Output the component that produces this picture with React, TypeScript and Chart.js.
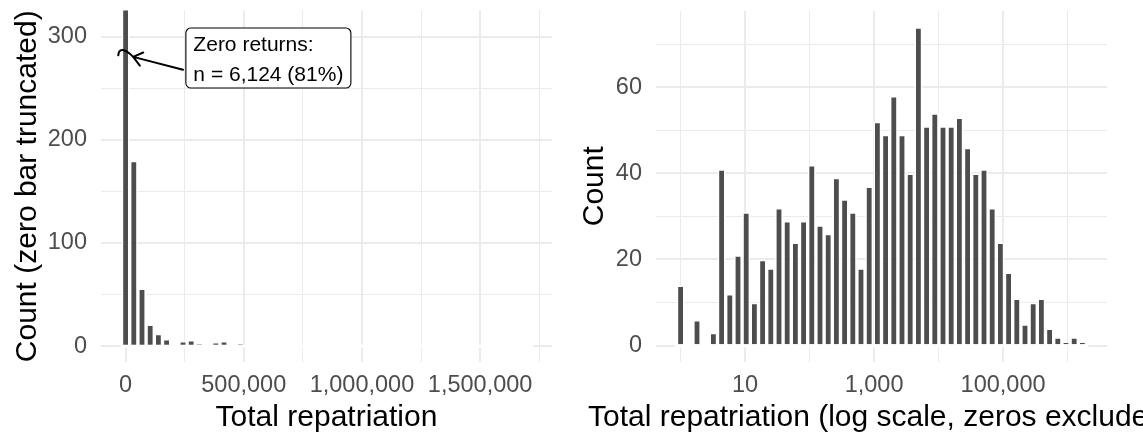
import { useEffect, useRef } from 'react';
import { Chart, registerables } from 'chart.js';

Chart.register(...registerables);

const FONT = '"Liberation Sans", Arial, Helvetica, sans-serif';
const BAR_FILL = '#4D4D4D';
const GRID_COLOR = '#EBEBEB';
const TICK_COLOR = '#4D4D4D';
const OUTLINE = 1.7;
const TICK_SIZE = 23.5;
const TITLE_SIZE = 30;
const NOTE_SIZE = 21;

// Both histograms use 50 equal-width bins, centred from the smallest to the largest value.
const MAX_REPATRIATION = 1700000;

// Counts per bin on the raw scale (bin 0 holds the zero returns, drawn truncated)
const RAW_COUNTS = [
  6124, 180, 56, 21, 12, 7, 0, 5, 6, 2, 0, 4, 5, 0, 2, 0, 1, 1, 0, 0, 1, 0, 1, 0, 0,
  0, 0, 0, 1, 0, 0, 0, 0, 0, 0, 1, 0, 0, 0, 0, 1, 0, 0, 0, 0, 0, 0, 0, 0, 1,
];

// Counts per bin on the log10 scale, zeros excluded
const LOG_COUNTS = [
  14, 0, 6, 0, 3, 41, 12, 21, 31, 10, 20, 18, 32, 29, 24, 29, 42, 28, 26, 39, 34, 31, 18, 37, 52,
  49, 58, 49, 40, 74, 51, 54, 51, 51, 53, 46, 40, 41, 32, 24, 17, 11, 5, 10, 11, 4, 2, 1, 2, 1,
];

const RAW_X_BREAKS = [0, 500000, 1000000, 1500000];
const RAW_X_MINOR = [250000, 750000, 1250000, 1750000];
const RAW_Y_BREAKS = [0, 100, 200, 300];
const RAW_Y_MINOR = [50, 150, 250];
const RAW_Y_LIMIT = 310;

const LOG_X_BREAKS = [10, 1000, 100000];
const LOG_X_MINOR = [1, 100, 10000, 1000000];
const LOG_Y_BREAKS = [0, 20, 40, 60];
const LOG_Y_MINOR = [10, 30, 50, 70];

const ZERO_NOTE = ['Zero returns:', 'n = 6,124 (81%)'];
// Note box, pointer and break mark, in data units of the raw histogram
const NOTE_ANCHOR = { x: 255000, y: 308.5 };
const ARROW_FROM = { x: 243000, y: 268 };
const ARROW_TO = { x: 32000, y: 280.5 };
const BREAK_MARK = [
  { x: -31000, y: 282 },
  { x: -28500, y: 288.5 },
  { x: -8000, y: 289.5 },
  { x: 32000, y: 280.5 },
];

const fmt = (v: number) => Math.round(v).toLocaleString('en-US');

const binCenters = (n: number, maxCenter: number) =>
  Array.from({ length: n }, (_, i) => (i * maxCenter) / (n - 1));

type Area = { left: number; right: number; top: number; bottom: number };

type PanelSpec = {
  canvasWidth: number;
  canvasHeight: number;
  area: Area;
  centers: number[];
  counts: number[];
  xMajor: number[];
  xMinor: number[];
  xLabel: (v: number) => string;
  yMajor: number[];
  yMinor: number[];
  yRange: [number, number];
  xTitle: string;
  yTitle: string;
  yTitleX: number;
  xTitleY: number;
  xTickPadding: number;
  extra?: (chart: any) => void;
};

const near = (list: number[], v: number) => list.some((m) => Math.abs(m - v) < 1e-6);

function histogramConfig(p: PanelSpec): any {
  const w = p.centers[1] - p.centers[0];
  const lo = p.centers[0] - w / 2;
  const hi = p.centers[p.centers.length - 1] + w / 2;
  const pad = 0.05 * (hi - lo);

  const decor = {
    id: 'decor',
    afterDatasetsDraw(chart: any) {
      const { ctx, chartArea, scales } = chart;
      const xs = scales.x;
      const ys = scales.y;
      // white outline of the empty bins along the baseline
      const half = (xs.getPixelForValue(p.centers[1]) - xs.getPixelForValue(p.centers[0])) / 2;
      const x0 = xs.getPixelForValue(p.centers[0]) - half - OUTLINE;
      const x1 = xs.getPixelForValue(p.centers[p.centers.length - 1]) + half + OUTLINE;
      const y0 = ys.getPixelForValue(0);
      ctx.save();
      ctx.beginPath();
      ctx.rect(chartArea.left, chartArea.top, chartArea.right - chartArea.left, chartArea.bottom - chartArea.top);
      ctx.clip();
      ctx.fillStyle = '#FFFFFF';
      ctx.fillRect(x0, y0 - 1.3, x1 - x0, 3.0);
      ctx.restore();
      if (p.extra) p.extra(chart);
    },
    afterDraw(chart: any) {
      const { ctx, chartArea } = chart;
      ctx.save();
      ctx.fillStyle = '#000000';
      ctx.font = `${TITLE_SIZE}px ${FONT}`;
      ctx.textAlign = 'center';
      ctx.textBaseline = 'alphabetic';
      ctx.fillText(p.xTitle, (chartArea.left + chartArea.right) / 2, p.xTitleY);
      ctx.translate(p.yTitleX, (chartArea.top + chartArea.bottom) / 2);
      ctx.rotate(-Math.PI / 2);
      ctx.fillText(p.yTitle, 0, 0);
      ctx.restore();
    },
  };

  const gridOpts = (major: number[]) => ({
    offset: false,
    drawTicks: false,
    color: GRID_COLOR,
    lineWidth: (ctx: any) => (ctx.tick && near(major, ctx.tick.value) ? 2 : 1),
  });

  return {
    type: 'bar',
    data: {
      datasets: [
        {
          data: p.centers.map((x, i) => ({ x, y: p.counts[i] })),
          backgroundColor: BAR_FILL,
          borderColor: '#FFFFFF',
          borderWidth: { top: OUTLINE, left: OUTLINE, right: OUTLINE, bottom: 0 },
          borderSkipped: false,
          categoryPercentage: 1,
          barPercentage: 1,
          inflateAmount: 0,
        },
      ],
    },
    options: {
      animation: false,
      responsive: false,
      events: [],
      layout: {
        autoPadding: false,
        padding: { left: 0, top: p.area.top, right: p.canvasWidth - p.area.right, bottom: 0 },
      },
      plugins: { legend: { display: false }, tooltip: { enabled: false }, title: { display: false } },
      scales: {
        x: {
          type: 'linear',
          min: lo - pad,
          max: hi + pad,
          offset: false,
          grid: gridOpts(p.xMajor),
          border: { display: false },
          afterBuildTicks: (s: any) => {
            s.ticks = [...p.xMajor, ...p.xMinor].sort((a, b) => a - b).map((value) => ({ value }));
          },
          ticks: {
            autoSkip: false,
            maxRotation: 0,
            minRotation: 0,
            padding: p.xTickPadding,
            color: TICK_COLOR,
            font: { family: FONT, size: TICK_SIZE },
            callback: (v: number) => (near(p.xMajor, v) ? p.xLabel(v) : ''),
          },
          afterFit: (s: any) => {
            s.height = p.canvasHeight - p.area.bottom;
            s.paddingLeft = 0;
            s.paddingRight = 0;
            s.paddingTop = 0;
            s.paddingBottom = 0;
          },
        },
        y: {
          type: 'linear',
          min: p.yRange[0],
          max: p.yRange[1],
          grid: gridOpts(p.yMajor),
          border: { display: false },
          afterBuildTicks: (s: any) => {
            s.ticks = [...p.yMajor, ...p.yMinor].sort((a, b) => a - b).map((value) => ({ value }));
          },
          ticks: {
            autoSkip: false,
            padding: 14,
            color: TICK_COLOR,
            font: { family: FONT, size: TICK_SIZE },
            callback: (v: number) => (near(p.yMajor, v) ? fmt(v) : ''),
          },
          afterFit: (s: any) => {
            s.width = p.area.left;
            s.paddingLeft = 0;
            s.paddingRight = 0;
            s.paddingTop = 0;
            s.paddingBottom = 0;
          },
        },
      },
    },
    plugins: [decor],
  };
}

function drawZeroNote(chart: any) {
  const { ctx, scales } = chart;
  const px = (v: number) => scales.x.getPixelForValue(v);
  const py = (v: number) => scales.y.getPixelForValue(v);
  ctx.save();
  ctx.strokeStyle = '#000000';
  ctx.lineCap = 'round';
  ctx.lineJoin = 'round';

  // break mark across the truncated zero bar
  ctx.lineWidth = 2;
  ctx.beginPath();
  ctx.moveTo(px(BREAK_MARK[0].x), py(BREAK_MARK[0].y));
  ctx.bezierCurveTo(
    px(BREAK_MARK[1].x), py(BREAK_MARK[1].y),
    px(BREAK_MARK[2].x), py(BREAK_MARK[2].y),
    px(BREAK_MARK[3].x), py(BREAK_MARK[3].y),
  );
  ctx.stroke();

  // pointer with an open arrow head
  const ax = px(ARROW_FROM.x);
  const ay = py(ARROW_FROM.y);
  const bx = px(ARROW_TO.x);
  const by = py(ARROW_TO.y);
  const ang = Math.atan2(ay - by, ax - bx);
  const head = 11;
  const spread = (38 * Math.PI) / 180;
  ctx.beginPath();
  ctx.moveTo(ax, ay);
  ctx.lineTo(bx, by);
  ctx.moveTo(bx + head * Math.cos(ang - spread), by + head * Math.sin(ang - spread));
  ctx.lineTo(bx, by);
  ctx.lineTo(bx + head * Math.cos(ang + spread), by + head * Math.sin(ang + spread));
  ctx.stroke();

  // label box
  ctx.font = `${NOTE_SIZE}px ${FONT}`;
  const padX = 7.5;
  const textW = Math.max(...ZERO_NOTE.map((t) => ctx.measureText(t).width));
  const left = px(NOTE_ANCHOR.x);
  const top = py(NOTE_ANCHOR.y);
  const boxW = textW + 2 * padX;
  const boxH = 60;
  ctx.beginPath();
  ctx.roundRect(left, top, boxW, boxH, 5);
  ctx.fillStyle = '#FFFFFF';
  ctx.fill();
  ctx.lineWidth = 1.1;
  ctx.stroke();
  ctx.fillStyle = '#000000';
  ctx.textAlign = 'left';
  ctx.textBaseline = 'alphabetic';
  ctx.fillText(ZERO_NOTE[0], left + padX, top + 22.5);
  ctx.fillText(ZERO_NOTE[1], left + padX, top + 52.5);
  ctx.restore();
}

function rawConfig() {
  const yPad = 0.05 * RAW_Y_LIMIT;
  return histogramConfig({
    canvasWidth: 560,
    canvasHeight: 434,
    area: { left: 101, right: 552, top: 10.5, bottom: 362 },
    centers: binCenters(RAW_COUNTS.length, MAX_REPATRIATION),
    counts: RAW_COUNTS,
    xMajor: RAW_X_BREAKS,
    xMinor: RAW_X_MINOR,
    xLabel: fmt,
    yMajor: RAW_Y_BREAKS,
    yMinor: RAW_Y_MINOR,
    yRange: [-yPad, RAW_Y_LIMIT + yPad],
    xTitle: 'Total repatriation',
    yTitle: 'Count (zero bar truncated)',
    yTitleX: 35.5,
    xTitleY: 426,
    xTickPadding: 9,
    extra: drawZeroNote,
  });
}

function logConfig() {
  const top = Math.max(...LOG_COUNTS);
  const yPad = 0.05 * top;
  return histogramConfig({
    canvasWidth: 583,
    canvasHeight: 434,
    area: { left: 96, right: 547, top: 11, bottom: 361.5 },
    centers: binCenters(LOG_COUNTS.length, Math.log10(MAX_REPATRIATION)),
    counts: LOG_COUNTS,
    xMajor: LOG_X_BREAKS.map(Math.log10),
    xMinor: LOG_X_MINOR.map(Math.log10),
    xLabel: (v: number) => fmt(Math.pow(10, v)),
    yMajor: LOG_Y_BREAKS,
    yMinor: LOG_Y_MINOR,
    yRange: [-yPad, top + yPad],
    xTitle: 'Total repatriation (log scale, zeros excluded)',
    yTitle: 'Count',
    yTitleX: 43.3,
    xTitleY: 426,
    xTickPadding: 9.5,
  });
}

export default function App() {
  const rawRef = useRef<HTMLCanvasElement>(null);
  const logRef = useRef<HTMLCanvasElement>(null);

  useEffect(() => {
    Chart.defaults.font.family = FONT;
    const charts = [
      new Chart(rawRef.current as HTMLCanvasElement, rawConfig()),
      new Chart(logRef.current as HTMLCanvasElement, logConfig()),
    ];
    return () => charts.forEach((c) => c.destroy());
  }, []);

  return (
    <div
      style={{
        position: 'fixed',
        left: 0,
        top: 0,
        width: 1143,
        height: 434,
        background: '#FFFFFF',
        overflow: 'hidden',
      }}
    >
      <canvas ref={rawRef} width={560} height={434} style={{ position: 'absolute', left: 0, top: 0 }} />
      <canvas ref={logRef} width={583} height={434} style={{ position: 'absolute', left: 560, top: 0 }} />
    </div>
  );
}
